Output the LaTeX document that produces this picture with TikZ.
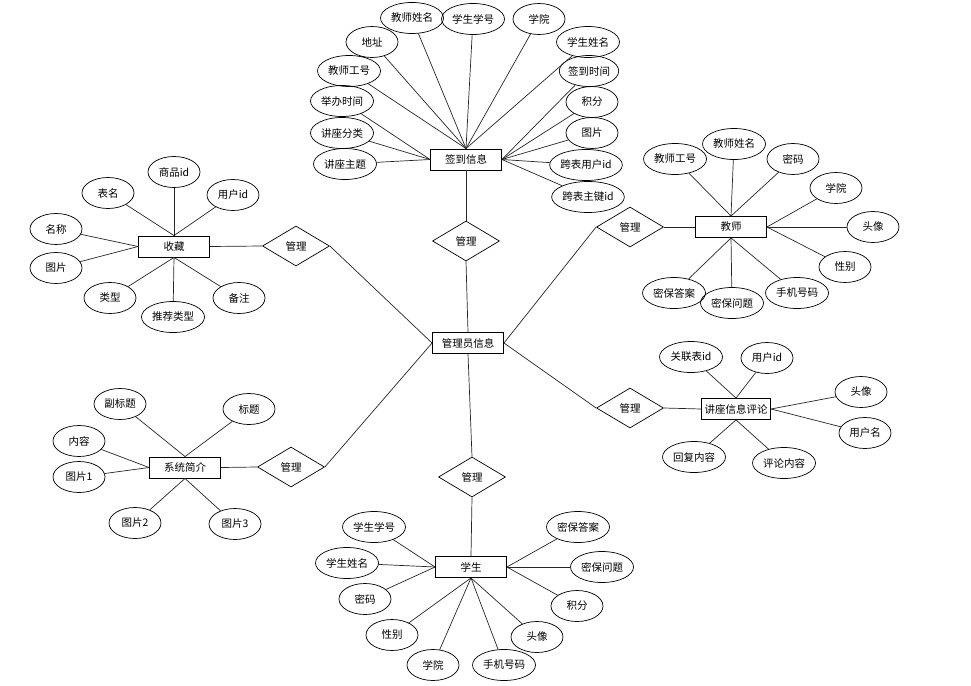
\documentclass[tikz,border=0pt]{standalone}
\usepackage{fontspec}
\setmainfont{Noto Sans CJK SC}
\usepackage{tikz}
\usetikzlibrary{shapes.geometric}

\tikzset{
  entity/.style={draw, rectangle, line width=0.9pt, minimum width=71pt, minimum height=21pt, inner sep=2pt},
  attr/.style={draw, ellipse, line width=0.7pt, minimum width=52pt, minimum height=31pt, inner sep=0pt},
  wide/.style={minimum width=63pt},
  rel/.style={draw, diamond, line width=0.7pt, minimum width=67pt, minimum height=40pt, inner sep=0pt},
  link/.style={line width=0.7pt, black!85}
}

\begin{document}
\begin{tikzpicture}[x=1pt, y=-1pt, font=\fontsize{10.5}{12}\selectfont]

\useasboundingbox (0,0) rectangle (971,685);

% centre
\node[entity] (gly) at (468,343) {管理员信息};

% sign-in
\node[entity] (qd) at (466,159.5) {签到信息};
\node[attr, wide] (qd1) at (412,18) {教师姓名};
\node[attr, wide] (qd2) at (473,19) {学生学号};
\node[attr] (qd3) at (539,19) {学院};
\node[attr] (qd4) at (372,42) {地址};
\node[attr, wide] (qd5) at (349,71) {教师工号};
\node[attr, wide] (qd6) at (588,42) {学生姓名};
\node[attr, wide] (qd7) at (342,101) {举办时间};
\node[attr, wide] (qd8) at (342,133) {讲座分类};
\node[attr, wide] (qd9) at (345,164) {讲座主题};
\node[attr, minimum width=58pt] (qd10) at (589,71) {签到时间};
\node[attr] (qd11) at (592,102) {积分};
\node[attr] (qd12) at (592,133) {图片};
\node[attr, wide] (qd13) at (586,165) {跨表用户id};
\node[attr, wide] (qd14) at (588,197) {跨表主键id};
\foreach \a in {1,...,6}{
	\draw[link] (qd\a) -- (qd.north);
}
\foreach \a in {7,8,9}{
	\draw[link] (qd\a) -- (qd.west);
}
\foreach \a in {10,...,14}{
	\draw[link] (qd\a) -- (qd.east);
}
\node[rel] (gl1) at (466,241) {管理};
\draw[link] (qd.south) -- (gl1.north);
\draw[link] (gl1.south) -- (gly.north);

% collect
\node[entity] (sc) at (174,246.5) {收藏};
\node[attr] (sc1) at (174,172) {商品id};
\node[attr] (sc2) at (108,193) {表名};
\node[attr] (sc3) at (233,195) {用户id};
\node[attr] (sc4) at (56,229) {名称};
\node[attr] (sc5) at (56,268) {图片};
\node[attr] (sc6) at (110,298) {类型};
\node[attr, wide] (sc7) at (173,317) {推荐类型};
\node[attr] (sc8) at (239,298) {备注};
\foreach \a in {1,2,3}{
	\draw[link] (sc\a) -- (sc.north);
}
\foreach \a in {4,5}{
	\draw[link] (sc\a) -- (sc.west);
}
\foreach \a in {6,7,8}{
	\draw[link] (sc\a) -- (sc.south);
}
\node[rel] (gl2) at (296,246) {管理};
\draw[link] (sc.east) -- (gl2.west);
\draw[link] (gl2.east) -- (gly.west);

% teacher
\node[entity] (js) at (731,227) {教师};
\node[attr, wide] (js1) at (675,159) {教师工号};
\node[attr, wide] (js2) at (734,144) {教师姓名};
\node[attr] (js3) at (793,159) {密码};
\node[attr] (js4) at (836,188) {学院};
\node[attr] (js5) at (873,227) {头像};
\node[attr] (js6) at (845,267) {性别};
\node[attr, wide] (js7) at (797,293) {手机号码};
\node[attr, wide] (js8) at (732,303) {密保问题};
\node[attr, wide] (js9) at (674,293) {密保答案};
\foreach \a in {1,2,3}{
	\draw[link] (js\a) -- (js.north);
}
\foreach \a in {4,5,6}{
	\draw[link] (js\a) -- (js.east);
}
\foreach \a in {7,8,9}{
	\draw[link] (js\a) -- (js.south);
}
\node[rel] (gl3) at (630,227) {管理};
\draw[link] (gly.east) -- (gl3.west);
\draw[link] (gl3.east) -- (js.west);

% comments
\node[entity, minimum width=69pt] (pl) at (736,409) {讲座信息评论};
\node[attr, wide] (pl1) at (691,357) {关联表id};
\node[attr] (pl2) at (767,358) {用户id};
\node[attr] (pl3) at (861,392) {头像};
\node[attr] (pl4) at (865,433) {用户名};
\node[attr, wide] (pl5) at (694,457) {回复内容};
\node[attr, wide] (pl6) at (784,463) {评论内容};
\foreach \a in {1,2}{
	\draw[link] (pl\a) -- (pl.north);
}
\foreach \a in {3,4}{
	\draw[link] (pl\a) -- (pl.east);
}
\foreach \a in {5,6}{
	\draw[link] (pl\a) -- (pl.south);
}
\node[rel] (gl4) at (630,408) {管理};
\draw[link] (gly.east) -- (gl4.west);
\draw[link] (gl4.east) -- (pl.west);

% intro
\node[entity] (xt) at (185,467.5) {系统简介};
\node[attr] (xt1) at (120,404) {副标题};
\node[attr] (xt2) at (249,409) {标题};
\node[attr] (xt3) at (79,441) {内容};
\node[attr] (xt4) at (79,477) {图片1};
\node[attr] (xt5) at (135,523) {图片2};
\node[attr] (xt6) at (235,524) {图片3};
\foreach \a in {1,2}{
	\draw[link] (xt\a) -- (xt.north);
}
\foreach \a in {3,4}{
	\draw[link] (xt\a) -- (xt.west);
}
\foreach \a in {5,6}{
	\draw[link] (xt\a) -- (xt.south);
}
\node[rel] (gl5) at (291,467) {管理};
\draw[link] (xt.east) -- (gl5.west);
\draw[link] (gl5.east) -- (gly.west);

% student
\node[entity] (xs) at (471,567) {学生};
\node[attr, wide] (xs1) at (374,527) {学生学号};
\node[attr, wide] (xs2) at (347,563) {学生姓名};
\node[attr] (xs3) at (365,599) {密码};
\node[attr] (xs4) at (392,635) {性别};
\node[attr] (xs5) at (433,665) {学院};
\node[attr, wide] (xs6) at (504,665) {手机号码};
\node[attr] (xs7) at (537,637) {头像};
\node[attr] (xs8) at (577,606) {积分};
\node[attr, wide] (xs9) at (602,567) {密保问题};
\node[attr, wide] (xs10) at (578,527) {密保答案};
\foreach \a in {1,2,3}{
	\draw[link] (xs\a) -- (xs.west);
}
\foreach \a in {4,...,7}{
	\draw[link] (xs\a) -- (xs.south);
}
\foreach \a in {8,9,10}{
	\draw[link] (xs\a) -- (xs.east);
}
\node[rel] (gl6) at (472,477) {管理};
\draw[link] (gly.south) -- (gl6.north);
\draw[link] (gl6.south) -- (xs.north);

\end{tikzpicture}
\end{document}
